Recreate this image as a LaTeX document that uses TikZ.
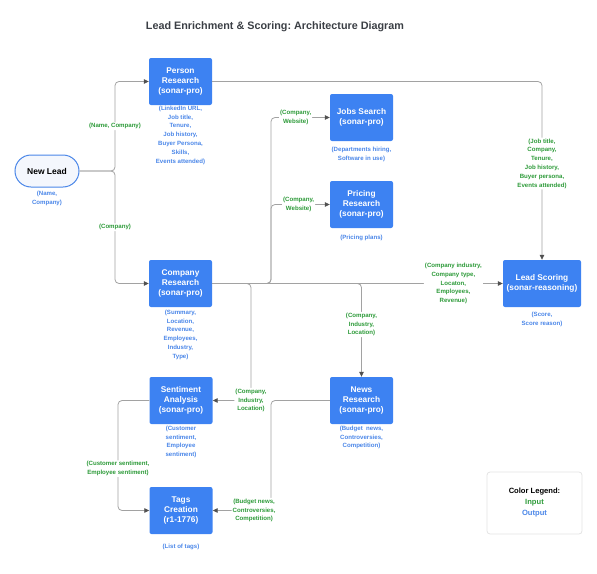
\documentclass[tikz,border=0pt]{standalone}
\usepackage{fontspec}
\setmainfont{Liberation Sans}
\usetikzlibrary{arrows.meta,positioning}
\frenchspacing
\definecolor{boxblue}{HTML}{3D82F2}
\definecolor{outblue}{HTML}{4A86E8}
\definecolor{ingreen}{HTML}{2E9B3A}
\definecolor{leadfill}{HTML}{F4F7FD}
\definecolor{linegray}{HTML}{A2A2A2}
\definecolor{arrowgray}{HTML}{505050}
\definecolor{titlegray}{HTML}{3B3F45}

\begin{document}
\begin{tikzpicture}[x=1pt,y=-1pt,
    agent/.style={fill=boxblue,text=white,rounded corners=2pt,minimum width=63pt,minimum height=47pt,
        align=center,inner sep=1pt,font=\fontsize{8.3}{10}\bfseries\selectfont},
    outlbl/.style={text=outblue,align=center,inner sep=0.5pt,font=\fontsize{6.1}{8.8}\bfseries\selectfont},
    inlbl/.style={text=ingreen,fill=white,align=center,inner sep=1pt,font=\fontsize{6.1}{8.8}\bfseries\selectfont},
    flow/.style={draw=linegray,line width=0.8pt,rounded corners=4pt},
    arr/.style={flow,-{Triangle[length=5pt,width=4.5pt,color=arrowgray]}}]
    \useasboundingbox (0,0) rectangle (597,573);
    \node[text=titlegray,font=\fontsize{10.8}{13}\bfseries\selectfont] (title) at (275,27)
        {Lead Enrichment \& Scoring: Architecture Diagram};

    \node[draw=outblue,fill=leadfill,line width=1pt,rounded corners=16pt,minimum width=64pt,minimum height=32pt,
        font=\fontsize{8.5}{10}\bfseries\selectfont] (lead) at (47,171) {New Lead};
    \node[outlbl,below=3pt of lead] (lead-out) {(Name,\\Company)};

    \node[agent] (person) at (180.5,81.5) {Person\\Research\\(sonar-pro)};
    \node[outlbl,below=0pt of person] (person-out) {(LinkedIn URL,\\Job title,\\Tenure,\\Job history,\\Buyer Persona,\\Skills,\\Events attended)};

    \node[agent] (jobs) at (361.5,117.5) {Jobs Search\\(sonar-pro)};
    \node[outlbl,below=5pt of jobs] (jobs-out) {(Departments hiring,\\Software in use)};

    \node[agent] (pricing) at (361.5,204.5) {Pricing\\Research\\(sonar-pro)};
    \node[outlbl,below=6pt of pricing] (pricing-out) {(Pricing plans)};

    \node[agent] (company) at (180.5,283.5) {Company\\Research\\(sonar-pro)};
    \node[outlbl,below=2pt of company] (company-out) {(Summary,\\Location,\\Revenue,\\Employees,\\Industry,\\Type)};

    \node[agent,minimum width=78pt] (score) at (542,283.5) {Lead Scoring\\(sonar-reasoning)};
    \node[outlbl,below=4pt of score] (score-out) {(Score,\\Score reason)};

    \node[agent] (sentiment) at (181,400.5) {Sentiment\\Analysis\\(sonar-pro)};
    \node[outlbl,below=1pt of sentiment] (sentiment-out) {(Customer\\sentiment,\\Employee\\sentiment)};

    \node[agent] (news) at (361.5,400.5) {News\\Research\\(sonar-pro)};
    \node[outlbl,below=1pt of news] (news-out) {(Budget\ \ news,\\Controversies,\\Competition)};

    \node[agent] (tags) at (181,510.5) {Tags\\Creation\\(r1-1776)};
    \node[outlbl,below=9pt of tags] (tags-out) {(List of tags)};

    \node[draw=gray!22,line width=0.8pt,rounded corners=3pt,minimum width=95pt,minimum height=62pt,align=center,
        font=\fontsize{7.6}{11}\bfseries\selectfont] (legend) at (534.5,503)
        {Color Legend:\\\textcolor{ingreen}{Input}\\\textcolor{outblue}{Output}};

    \coordinate (split) at (115,171);
    \coordinate (jx) at (271,0);
    \coordinate (sx) at (251,0);
    \coordinate (tx) at (118,0);
    \coordinate (nx) at (271,0);

    \draw[arr] (lead.east) -- (split) |- node[inlbl,pos=0.25]{(Name, Company)} (person.west);
    \draw[arr] (lead.east) -- (split) |- node[inlbl,pos=0.25]{(Company)} (company.west);
    \draw[arr] (person.east) -| node[inlbl,pos=0.73]{(Job title,\\Company,\\Tenure,\\Job history,\\Buyer persona,\\Events attended)} (score.north);
    \draw[arr] (company.east) -| (jx |- jobs.west) -- node[inlbl,pos=0.42]{(Company,\\Website)} (jobs.west);
    \draw[arr] (company.east) -| (jx |- pricing.west) -- node[inlbl,pos=0.47]{(Company,\\Website)} (pricing.west);
    \draw[arr] (company.east) -| (sx |- sentiment.east) -- node[inlbl,pos=0]{(Company,\\Industry,\\Location)} (sentiment.east);
    \draw[arr] (company.east) -| node[inlbl,pos=0.72]{(Company,\\Industry,\\Location)} (news.north);
    \draw[arr] (company.east) -- node[inlbl,pos=0.83]{(Company industry,\\Company type,\\Locaton,\\Employees,\\Revenue)} (score.west);
    \draw[arr] (sentiment.west) -| node[inlbl,pos=0.81]{(Customer sentiment,\\Employee sentiment)} (tx |- tags.west) -- (tags.west);
    \draw[arr] (news.west) -| (nx |- tags.east) -- node[inlbl,pos=0.29]{(Budget news,\\Controversies,\\Competition)} (tags.east);
\end{tikzpicture}
\end{document}
